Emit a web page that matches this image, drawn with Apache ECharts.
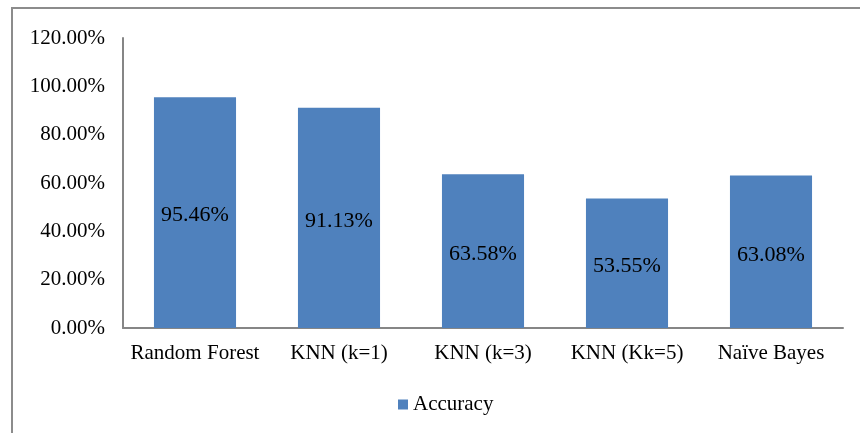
<!DOCTYPE html>
<html>
<head>
<meta charset="utf-8">
<script src="https://cdn.jsdelivr.net/npm/echarts@6/dist/echarts.min.js"></script>
<style>
  html, body { margin: 0; padding: 0; background: #fff; }
  #frame { position: absolute; left: 11px; top: 7px; width: 860px; height: 440px;
           border-left: 2px solid #8c8c8c; border-top: 2px solid #8c8c8c; }
  #chart { position: absolute; left: 0; top: 0; width: 860px; height: 433px; }
</style>
</head>
<body>
<div id="frame"></div>
<div id="chart"></div>
<script>
// data
const categories = ['Random Forest', 'KNN (k=1)', 'KNN (k=3)', 'KNN (Kk=5)', 'Naïve Bayes'];
const accuracy = [95.46, 91.13, 63.58, 53.55, 63.08];
const seriesName = 'Accuracy';

const chart = echarts.init(document.getElementById('chart'));
const font = '"Liberation Serif", "Times New Roman", serif';

const option = {
  animation: false,
  textStyle: { fontFamily: font },
  grid: { left: 123, right: 17, top: 38, bottom: 105 },
  legend: {
    data: [seriesName],
    bottom: 13,
    left: 393,
    icon: 'rect',
    itemWidth: 10,
    itemHeight: 10,
    itemGap: 4,
    textStyle: { fontFamily: font, fontSize: 21, color: '#000' }
  },
  xAxis: {
    type: 'category',
    data: categories,
    axisLine: { lineStyle: { color: '#868686', width: 2 } },
    axisTick: { show: false },
    axisLabel: { fontFamily: font, fontSize: 21, color: '#000', margin: 15, interval: 0 }
  },
  yAxis: {
    type: 'value',
    min: 0,
    max: 120,
    interval: 20,
    axisLine: { show: true, lineStyle: { color: '#868686', width: 2 } },
    axisTick: { show: false },
    splitLine: { show: false },
    axisLabel: {
      fontFamily: font, fontSize: 21, color: '#000', margin: 18,
      formatter: v => v.toFixed(2) + '%'
    }
  },
  series: [{
    name: seriesName,
    type: 'bar',
    data: accuracy,
    barWidth: '57%',
    itemStyle: { color: '#4f81bd' },
    label: {
      show: true,
      position: 'inside',
      offset: [0, 3],
      fontFamily: font,
      fontSize: 22,
      color: '#000',
      formatter: p => p.value.toFixed(2) + '%'
    }
  }]
};

chart.setOption(option);
</script>
</body>
</html>
